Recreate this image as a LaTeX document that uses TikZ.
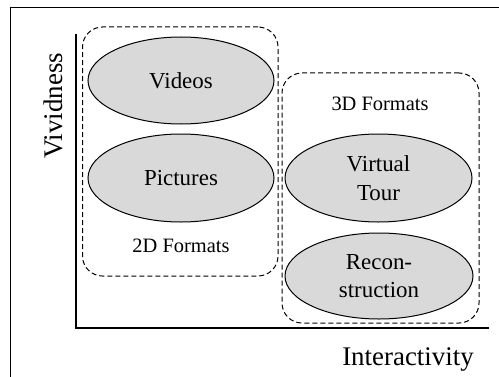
\documentclass[tikz,border=0pt]{standalone}
\usepackage{fontspec}
\setmainfont{Liberation Serif}
\usetikzlibrary{shapes.geometric}
\tikzset{
  item/.style={ellipse, draw=black, line width=1bp, fill={rgb,255:red,217;green,217;blue,217}, inner sep=0pt, align=center, font=\fontsize{23}{28.5}\selectfont},
  group/.style={draw=black, dashed, dash pattern=on 5bp off 3bp, line width=1bp, rounded corners=20bp, inner sep=0pt},
  glabel/.style={font=\fontsize{20.5}{24}\selectfont, inner sep=0pt},
  axlabel/.style={font=\fontsize{27}{32}\selectfont, inner sep=0pt},
  axis/.style={line width=2.4bp, black},
}
\begin{document}
\begin{tikzpicture}[x=1bp,y=1bp]
\useasboundingbox (0,0) rectangle (499,376);
\clip (0,0) rectangle (499,376);
\fill[white] (0,0) rectangle (499,376);
% outer frame (cut off at right and bottom)
\draw[line width=1.4bp] (10.5,-20) rectangle (530,368.5);
% groups
\node[group, minimum width=195.5bp, minimum height=249bp] (g2d) at (180.25,224.5) {};
\node[group, minimum width=197bp, minimum height=250bp] (g3d) at (380.5,178) {};
% axes
\coordinate (o) at (76,48);
\coordinate (ytop) at (76,342);
\coordinate (xend) at (489,48);
\draw[axis] (ytop) -- (o) -- (xend);
% items
\node[item, minimum width=186bp, minimum height=87bp] (videos) at (181,295.5) {Videos};
\node[item, minimum width=186bp, minimum height=88bp] (pictures) at (181,198) {Pictures};
\node[item, minimum width=187bp, minimum height=88bp] (vtour) at (378.5,198) {Virtual\\Tour};
\node[item, minimum width=188bp, minimum height=86bp] (recon) at (379,100) {Recon-\\struction};
% labels
\node[glabel, anchor=base] (l2d) at (181,124) {2D Formats};
\node[glabel, anchor=base] (l3d) at (380,266) {3D Formats};
\node[axlabel, anchor=base] (xlab) at (408,11) {Interactivity};
\node[axlabel, anchor=base, rotate=90] (ylab) at (62,270) {Vividness};
\end{tikzpicture}
\end{document}
